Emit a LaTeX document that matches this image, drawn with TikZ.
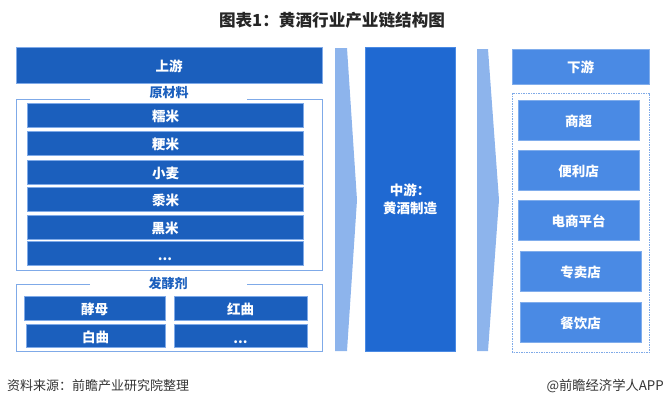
\documentclass[tikz,border=0pt]{standalone}
\usepackage{fontspec}
\setmainfont{Noto Sans CJK SC}
\usepackage{xcolor}
\definecolor{ChainDeep}{HTML}{1B5FBD}
\definecolor{ChainMid}{HTML}{1F69D2}
\definecolor{ChainLight}{HTML}{4A8AE4}
\definecolor{ChainPale}{HTML}{8DB4EC}
\definecolor{ChainEdge}{HTML}{7FAAE8}
\usetikzlibrary{positioning}

\begin{document}
\begin{tikzpicture}[
    x=1pt, y=-1pt,
    basebox/.style={fill=ChainDeep, draw=ChainEdge, line width=0.5pt, text=white,
      inner sep=0pt, font=\fontsize{13.5}{15}\selectfont\bfseries},
    deepbox/.style={basebox, text height=14pt, text depth=1.8pt},
    lightbox/.style={deepbox, fill=ChainLight, draw=ChainLight!70!white},
    framelabel/.style={text=ChainDeep, inner sep=0pt, font=\fontsize{13}{15}\selectfont\bfseries},
    frameline/.style={draw=ChainEdge, line width=0.9pt},
    flowarrow/.style={fill=ChainPale, draw=none}
  ]
    \useasboundingbox (0,0) rectangle (664,407);
    \node[font=\fontsize{16.6}{19}\selectfont\bfseries, text=black!85] (title) at (332,20)
      {图表1：黄酒行业产业链结构图};

    % upstream
    \node[deepbox, minimum width=306pt, minimum height=36pt] (up) at (169,65) {上游};
    \draw[frameline] (90,99.5) -- (16,99.5) -- (16,270.5) -- (322,270.5) -- (322,99.5) -- (247,99.5);
    \node[framelabel] (rawlabel) at (169,93) {原材料};
    \node[deepbox, minimum width=276pt, minimum height=24pt] (raw1) at (165.5,115) {糯米};
    \node[deepbox, minimum width=276pt, minimum height=24pt] (raw2) at (165.5,143.5) {粳米};
    \node[deepbox, minimum width=276pt, minimum height=24pt] (raw3) at (165.5,172) {小麦};
    \node[deepbox, minimum width=276pt, minimum height=24pt] (raw4) at (165.5,199.5) {黍米};
    \node[deepbox, minimum width=276pt, minimum height=24pt] (raw5) at (165,227) {黑米};
    \node[deepbox, minimum width=276pt, minimum height=24pt] (raw6) at (165,253.5) {\raisebox{-1pt}{...}};

    \draw[frameline] (90,284) -- (16,284) -- (16,351) -- (322,351) -- (322,284) -- (247,284);
    \node[framelabel] (yeastlabel) at (168,284) {发酵剂};
    \node[deepbox, minimum width=141pt, minimum height=24pt] (yeast1) at (94.5,308) {酵母};
    \node[deepbox, minimum width=133pt, minimum height=24pt] (yeast2) at (240.5,308) {红曲};
    \node[deepbox, minimum width=139pt, minimum height=23pt] (yeast3) at (95.5,336) {白曲};
    \node[deepbox, minimum width=133pt, minimum height=23pt] (yeast4) at (240.5,336) {\raisebox{-1pt}{...}};

    % midstream
    \fill[flowarrow] (335,48) -- (347,48) -- (357,200) -- (347,351) -- (335,351) -- cycle;
    \node[basebox, fill=ChainMid, draw=ChainLight, minimum width=90pt, minimum height=304pt,
      align=center] (mid) at (410,199) {中游：\\[3pt]黄酒制造};
    \fill[flowarrow] (477,49) -- (488,49) -- (499,200) -- (488,351) -- (477,351) -- cycle;

    % downstream
    \node[lightbox, minimum width=137pt, minimum height=35pt] (down) at (580.5,66.5) {下游};
    \draw[draw=ChainEdge, line width=0.8pt, dash pattern=on 1.5pt off 1pt]
      (512.5,93) rectangle (649.5,352);
    \node[lightbox, minimum width=121pt, minimum height=40pt] (shop1) at (578.5,120) {商超};
    \node[lightbox, minimum width=121pt, minimum height=40pt] (shop2) at (578.5,170) {便利店};
    \node[lightbox, minimum width=121pt, minimum height=40pt] (shop3) at (578.5,220) {电商平台};
    \node[lightbox, minimum width=121pt, minimum height=40pt] (shop4) at (580.5,271) {专卖店};
    \node[lightbox, minimum width=121pt, minimum height=40pt] (shop5) at (580.5,322) {餐饮店};

    \node[anchor=west, inner sep=0pt, text=black!80, font=\fontsize{13}{15}\selectfont] (source) at (7,386)
      {资料来源：前瞻产业研究院整理};
    \node[anchor=east, inner sep=0pt, text=black!80, font=\fontsize{13.3}{15}\selectfont] (brand) at (664,386)
      {@前瞻经济学人APP};
  \end{tikzpicture}
\end{document}
